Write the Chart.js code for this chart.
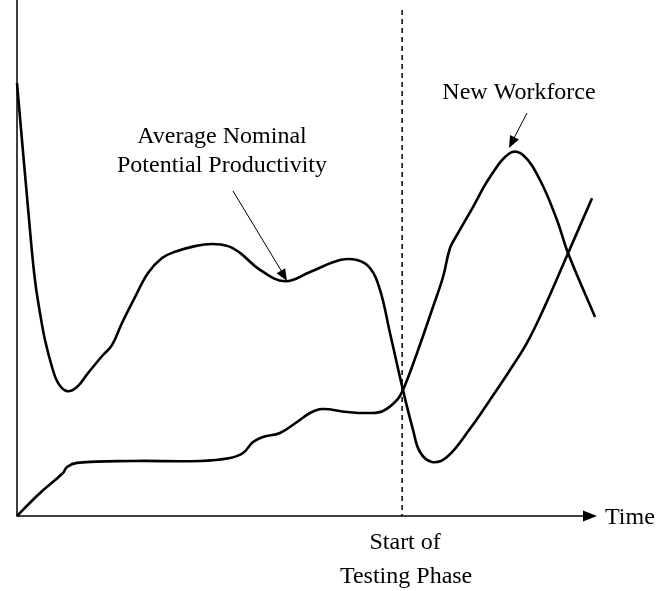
<!doctype html>
<html lang="en">
<head>
    <title>Productivity vs Time</title>
    <meta charset="utf-8">
    <script src="https://cdn.jsdelivr.net/npm/chart.js@4.4.1/dist/chart.umd.min.js"></script>
    <style>
        html, body { margin: 0; padding: 0; background: #fff; }
    </style>
</head>
<body>
<canvas id="productivityChart" width="659" height="591"></canvas>
<script>
    // time runs 0..100, level runs 0..100 (no ticks on the original)
    const productivityTime = [0, 2.24, 3.10, 3.97, 4.83, 6.03, 7.07, 8.62, 10.34, 12.24, 14.83, 16.38, 18.1, 20.34,
        22.59, 25.0, 27.24, 30.69, 33.62, 36.38, 38.45, 41.9, 46.2, 50.52, 55.69, 58.62, 60.86, 62.59, 64.31,
        66.55, 68.28, 69.48, 71.55, 74.14, 78.1, 81.55, 85.0, 87.9, 90.7, 94.5, 99.14];
    const productivityLevel = [83.9, 55.4, 45.7, 39.3, 34.1, 28.9, 25.8, 24.2, 25.0, 27.7, 31.2, 33.1, 37.4, 42.4,
        47.1, 50.0, 51.2, 52.3, 52.7, 52.3, 51.0, 47.7, 45.5, 47.3, 49.6, 49.6, 48.06, 43.8, 35.47,
        24.4, 16.7, 12.4, 10.47, 11.43, 16.9, 22.5, 28.3, 33.5, 39.9, 49.6, 61.6];

    const workforceTime = [0, 3.97, 7.93, 8.62, 10.34, 20.0, 31.55, 36.72, 38.97, 40.69, 42.41, 45.34, 48.28, 50.52,
        52.59, 56.9, 60.86, 63.1, 65.52, 66.55, 68.97, 71.72, 73.45, 74.66, 75.86, 78.62, 81.55, 85.0, 87.24,
        90.17, 93.1, 95.0, 99.66];
    const workforceLevel = [0, 4.46, 8.33, 9.5, 10.3, 10.66, 10.66, 11.24, 12.2, 14.34, 15.31, 16.09, 18.22, 19.96,
        20.74, 20.16, 19.96, 20.35, 22.48, 24.42, 31.59, 40.5, 46.32, 51.94, 54.46, 59.88, 65.7, 70.35, 69.96,
        65.12, 57.36, 50.97, 38.57];

    const testingStart = 66.4;

    function toPoints(xs, ys) {
        return xs.map((x, i) => ({x: x, y: ys[i]}));
    }

    const serif = '"Liberation Serif", "Times New Roman", serif';

    function arrowHead(ctx, x1, y1, x2, y2, len, half) {
        let a = Math.atan2(y2 - y1, x2 - x1);
        ctx.beginPath();
        ctx.moveTo(x2, y2);
        ctx.lineTo(x2 - len * Math.cos(a) + half * Math.sin(a), y2 - len * Math.sin(a) - half * Math.cos(a));
        ctx.lineTo(x2 - len * Math.cos(a) - half * Math.sin(a), y2 - len * Math.sin(a) + half * Math.cos(a));
        ctx.closePath();
        ctx.fill();
    }

    const decorations = {
        id: 'decorations',
        afterDatasetsDraw(chart) {
            const ctx = chart.ctx;
            const xs = chart.scales.x, ys = chart.scales.y;
            const px = v => xs.getPixelForValue(v);
            const py = v => ys.getPixelForValue(v);
            const area = chart.chartArea;
            ctx.save();
            ctx.strokeStyle = '#000';
            ctx.fillStyle = '#000';

            // axes
            ctx.lineWidth = 1.5;
            ctx.beginPath();
            ctx.moveTo(px(0), area.top);
            ctx.lineTo(px(0), py(0));
            ctx.lineTo(px(100) - 12, py(0));
            ctx.stroke();
            arrowHead(ctx, px(0), py(0), px(100), py(0), 14, 5.5);

            // start of testing phase
            ctx.setLineDash([5, 4]);
            ctx.beginPath();
            ctx.moveTo(px(testingStart), area.top + 10);
            ctx.lineTo(px(testingStart), py(0));
            ctx.stroke();
            ctx.setLineDash([]);

            ctx.font = '24px ' + serif;
            ctx.textBaseline = 'middle';
            ctx.textAlign = 'left';
            ctx.fillText('Time', px(100) + 8, py(0) + 2);

            ctx.textAlign = 'center';
            ctx.fillText('Start of', px(testingStart) + 3, py(0) + 27);
            ctx.fillText('Testing Phase', px(testingStart) + 4, py(0) + 61);

            // productivity label + arrow
            ctx.fillText('Average Nominal', 222, 137);
            ctx.fillText('Potential Productivity', 222, 166);
            ctx.lineWidth = 1;
            ctx.beginPath();
            ctx.moveTo(233, 191);
            ctx.lineTo(282, 272);
            ctx.stroke();
            arrowHead(ctx, 233, 191, 287, 281, 12, 5);

            // workforce label + arrow
            ctx.fillText('New Workforce', 519, 93);
            ctx.beginPath();
            ctx.moveTo(527, 113);
            ctx.lineTo(513, 140);
            ctx.stroke();
            arrowHead(ctx, 527, 113, 509, 148, 12, 5);

            ctx.restore();
        }
    };

    const ctx = document.getElementById('productivityChart').getContext('2d');
    const chart = new Chart(ctx, {
        type: 'scatter',
        data: {
            datasets: [{
                label: 'Average Nominal Potential Productivity',
                data: toPoints(productivityTime, productivityLevel),
                showLine: true,
                borderColor: '#000',
                borderWidth: 2.6,
                pointRadius: 0,
                tension: 0.4,
                clip: false
            }, {
                label: 'New Workforce',
                data: toPoints(workforceTime, workforceLevel),
                showLine: true,
                borderColor: '#000',
                borderWidth: 2.6,
                pointRadius: 0,
                tension: 0.4,
                clip: false
            }]
        },
        options: {
            responsive: false,
            animation: false,
            layout: {padding: {left: 17, right: 62, top: 0, bottom: 75}},
            plugins: {legend: {display: false}, tooltip: {enabled: false}},
            scales: {
                x: {type: 'linear', min: 0, max: 100, display: false},
                y: {type: 'linear', min: 0, max: 100, display: false}
            }
        },
        plugins: [decorations]
    });
</script>
</body>
</html>
